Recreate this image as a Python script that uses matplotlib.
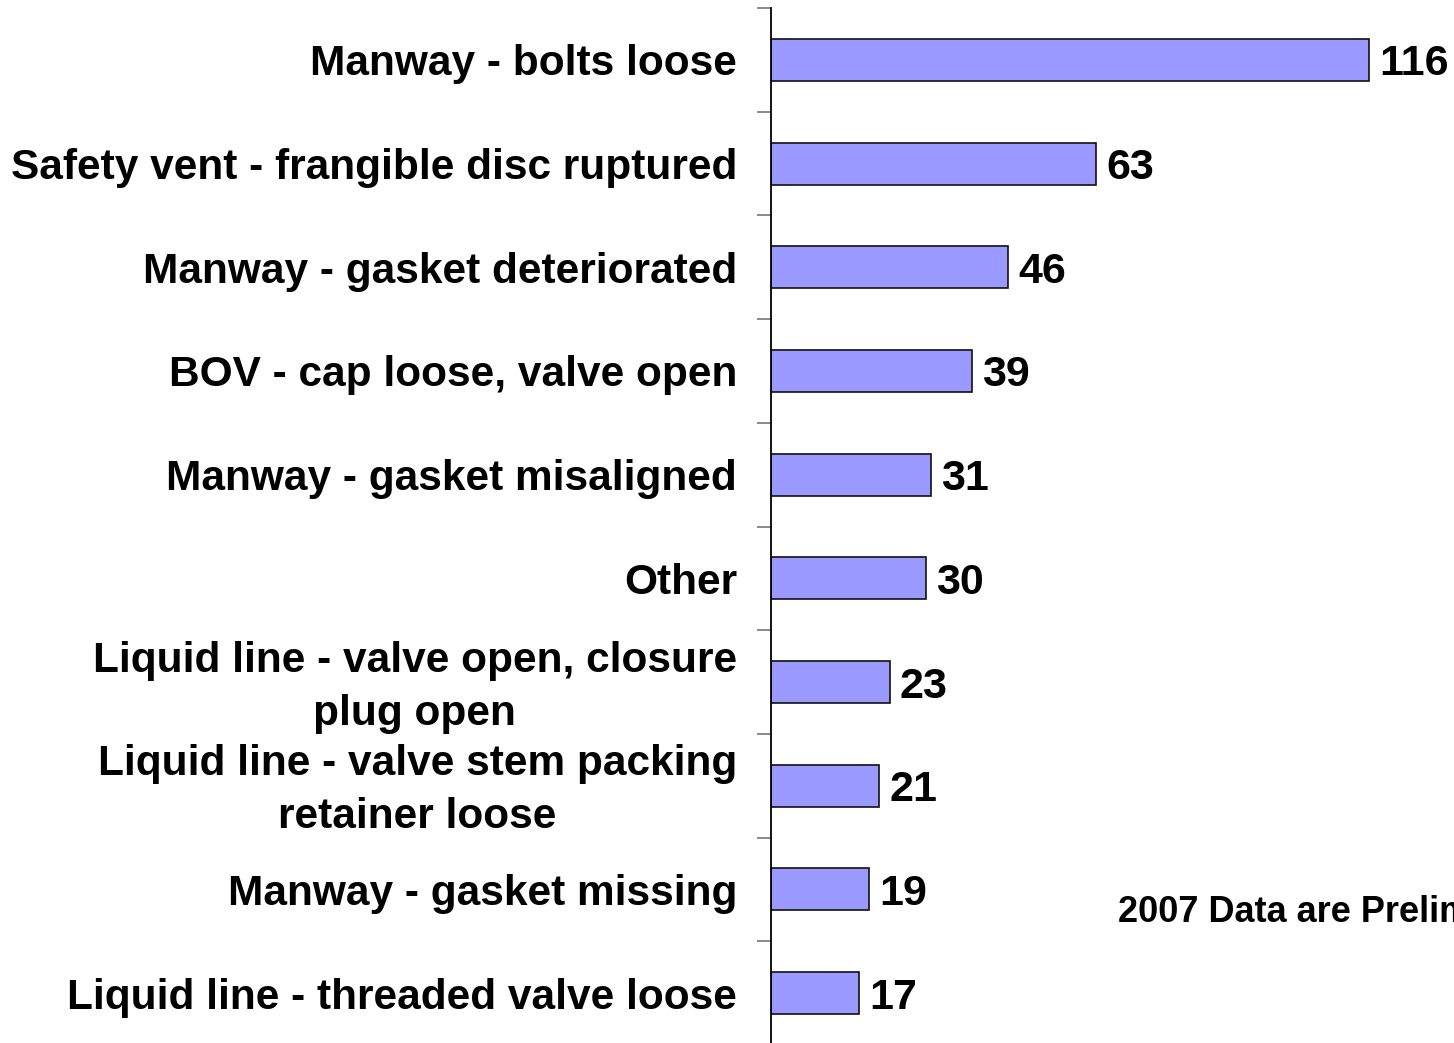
import matplotlib
matplotlib.use("Agg")
import matplotlib.pyplot as plt
import matplotlib.transforms as mtransforms
import numpy as np

categories = [
    "Manway - bolts loose",
    "Safety vent - frangible disc ruptured",
    "Manway - gasket deteriorated",
    "BOV - cap loose, valve open",
    "Manway - gasket misaligned",
    "Other",
    "Liquid line - valve open, closure\nplug open",
    "Liquid line - valve stem packing\nretainer loose",
    "Manway - gasket missing",
    "Liquid line - threaded valve loose",
]
values = [116, 63, 46, 39, 31, 30, 23, 21, 19, 17]
note = "2007 Data are Preliminary"

plt.rcParams['font.family'] = ['Liberation Sans', 'DejaVu Sans']
plt.rcParams['font.weight'] = 'bold'

W, H = 1454, 1043
fig = plt.figure(figsize=(W / 100, H / 100), dpi=100)
ax_left = 771 / W
ax_right = 1.0
ax_top = 1 - 8 / H
ax_bottom = 1 - 1045 / H
ax = fig.add_axes([ax_left, ax_bottom, ax_right - ax_left, ax_top - ax_bottom])
ax.patch.set_alpha(0)

y = np.arange(len(categories))
ax.barh(y, values, height=0.405, color="#9999FF", edgecolor="#111111", linewidth=1.2)
px_per_unit = (1369 - 771) / 116
ax.set_xlim(0, (W - 771) / px_per_unit)
ax.set_ylim(len(categories) - 0.5, -0.5)

for yi, v in zip(y, values):
    ax.annotate(str(v), xy=(v, yi), xytext=(7.5, 0), textcoords="offset points",
                ha="left", va="center_baseline", fontsize=31, fontweight="bold", color="black")

ax.set_yticks(y)
ax.set_yticklabels(categories, fontsize=30.5, fontweight="bold", multialignment="center",
                   linespacing=1.42)
ax.tick_params(axis="y", which="major", length=0, pad=24.5)
ax.set_yticks(np.arange(len(categories) + 1) - 0.5, minor=True)
ax.tick_params(axis="y", which="minor", length=10, width=1.2, color="#777777", direction="out")

shift = mtransforms.ScaledTranslation(0, -5 / 100, fig.dpi_scale_trans)
for lab in ax.get_yticklabels():
    if "\n" in lab.get_text():
        lab.set_va("center")
        lab.set_transform(lab.get_transform() + shift)

ax.set_xticks([])
for s in ["top", "right", "bottom"]:
    ax.spines[s].set_visible(False)
ax.spines["left"].set_linewidth(1.3)
ax.spines["left"].set_color("black")

fig.text(1118 / W, 1 - 922 / H, note, fontsize=26, fontweight="bold", ha="left",
         va="baseline")

fig.savefig("out.png", dpi=100)
